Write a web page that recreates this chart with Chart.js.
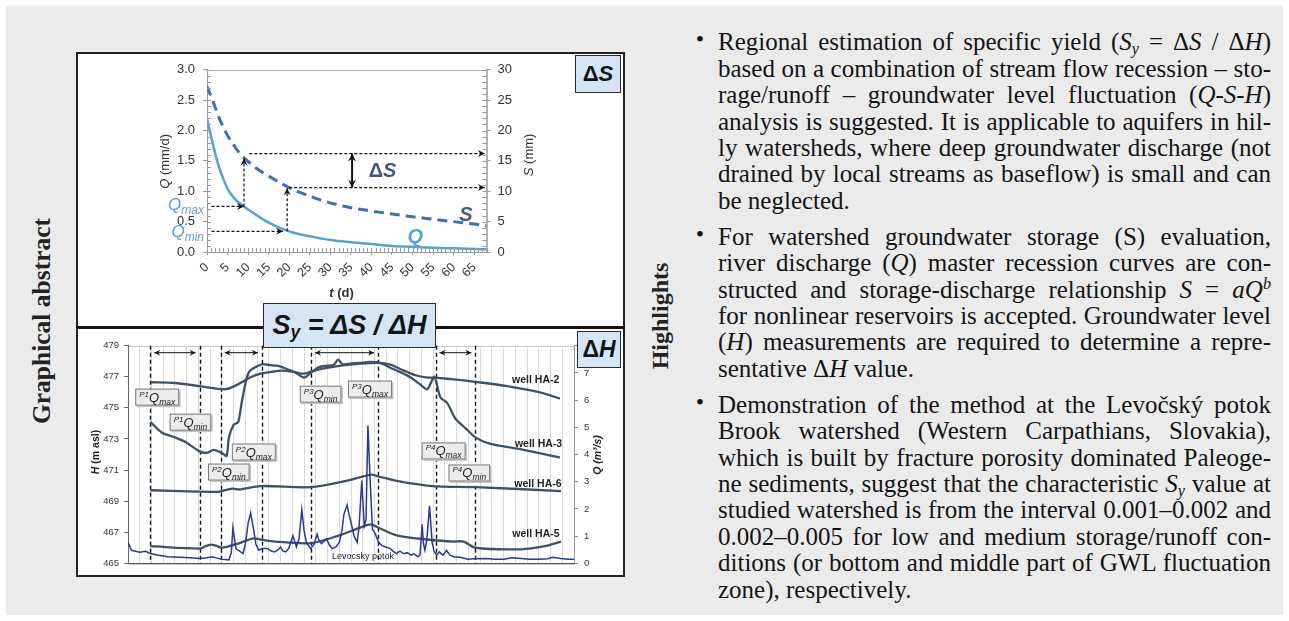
<!DOCTYPE html>
<html>
<head>
<meta charset="utf-8">
<title>Specific yield from Q-S-H analysis</title>
<script src="https://cdn.jsdelivr.net/npm/chart.js@4.4.1/dist/chart.umd.min.js"></script>
<style>
  html, body { margin: 0; padding: 0; }
  body { width: 1289px; height: 621px; position: relative; overflow: hidden; background: #fff; }
  #panel { position: absolute; left: 6px; top: 6px; width: 1277px; height: 609px; background: #ebebec; }
  #frame { position: absolute; left: 76px; top: 52px; width: 549px; height: 525px; box-sizing: border-box; border: 2px solid #222; background: #fff; }
  #divider { position: absolute; left: 76px; top: 325.5px; width: 549px; height: 3px; background: #111; }
  canvas { position: absolute; }
  .tag { position: absolute; box-sizing: border-box; border: 1.5px solid #2b2b2b; background: #d6e5f3; display: flex; align-items: center; justify-content: center; font-family: 'Liberation Sans', Arial, sans-serif; font-weight: bold; color: #151515; }
  .side { position: absolute; width: 300px; height: 30px; line-height: 30px; text-align: center; font-family: 'Liberation Serif', 'Times New Roman', serif; font-weight: bold; color: #232323; transform: rotate(-90deg); }
  .ln { position: absolute; left: 718px; width: 553px; height: 26px; line-height: 26px; font-family: 'Liberation Serif', 'Times New Roman', serif; font-size: 25px; color: #141414; text-align: justify; text-align-last: justify; }
  .ln.end { text-align-last: left; }
  .bul { position: absolute; left: 692px; width: 16px; height: 26px; line-height: 26px; text-align: center; font-family: 'Liberation Serif', serif; font-size: 24px; color: #141414; }
  .sb { font-size: 65%; vertical-align: -0.25em; line-height: 0; }
  .sp { font-size: 65%; vertical-align: 0.55em; line-height: 0; }
</style>
</head>
<body>
<div id="panel"></div>
<div id="frame"></div>
<canvas id="recession" width="545" height="271" style="left:78px;top:54px;"></canvas>
<canvas id="hydrograph" width="545" height="246" style="left:78px;top:329px;"></canvas>
<div id="divider"></div>
<div class="tag" style="left:575px;top:55px;width:46px;height:38px;font-size:22px;">Δ<i>S</i></div>
<div class="tag" style="left:577px;top:331px;width:44px;height:37px;font-size:23px;">Δ<i>H</i></div>
<div class="tag" style="left:263px;top:303px;width:173px;height:45px;font-size:27px;font-style:italic;">S<span style="font-size:65%;position:relative;top:7px;">y</span>&nbsp;= ΔS / ΔH</div>
<div class="side" style="left:-108.5px;top:306px;font-size:25.5px;">Graphical abstract</div>
<div class="side" style="left:510px;top:301px;font-size:24px;">Highlights</div>
<div id="highlights"></div>

<script>
// ---------- recession panel (top) ----------
const recessionDays = [0, 1, 2, 3, 4, 5, 6, 7, 8, 9, 10, 12, 14, 16, 18, 20, 22, 25, 28, 31, 35, 40, 45, 50, 55, 60, 65, 68];
const recessionQ = [2.2, 1.9, 1.62, 1.38, 1.2, 1.04, 0.94, 0.86, 0.8, 0.75, 0.7, 0.61, 0.52, 0.45, 0.39, 0.34, 0.3, 0.26, 0.22, 0.19, 0.16, 0.13, 0.1, 0.085, 0.07, 0.06, 0.05, 0.045];
const recessionS = [27.3, 25.6, 23.8, 22, 20.5, 19.2, 18.1, 17.1, 16.2, 15.5, 14.9, 13.8, 12.9, 12.1, 11.3, 10.6, 10, 9.2, 8.5, 7.9, 7.3, 6.75, 6.25, 5.8, 5.4, 5, 4.6, 4.3];

// Qmax / Qmin read on the recession curve and the storages they give
const qMax = 0.75, qMin = 0.34;
const tAtQmax = 9, tAtQmin = 19.5;
const sAtQmax = 16.2, sAtQmin = 10.6;

// ---------- hydrograph panel (bottom) ----------
// day of record, groundwater head (m asl)
const wellHA2 = [[19, 476.65], [40, 476.6], [61, 476.4], [83, 476.2], [92, 476.45], [98, 476.7], [104, 476.95], [113, 477.2], [121, 477.3], [131, 477.4], [142, 477.3], [150, 477.2], [159, 477.4], [172, 477.6], [185, 477.75], [198, 477.85], [213, 477.9], [223, 477.8], [232, 477.5], [245, 477.1], [255, 476.95], [262, 476.95], [275, 476.85], [296, 476.67], [323, 476.4], [351, 476.0], [368, 475.6]];
const wellHA3 = [[19, 474.1], [29, 473.4], [40, 473.1], [49, 472.8], [61, 472.2], [67, 472.1], [73, 472.3], [80, 472.1], [84, 471.9], [86, 473.1], [90, 473.9], [94, 474.1], [97, 475.4], [103, 477.3], [114, 477.8], [121, 477.75], [128, 477.7], [132, 477.6], [142, 477.3], [150, 476.95], [155, 477.2], [162, 477.6], [168, 477.7], [175, 477.75], [179, 478.1], [183, 477.8], [189, 477.85], [198, 477.9], [206, 477.95], [215, 477.9], [223, 477.6], [232, 477.3], [240, 477.0], [249, 476.5], [255, 476.2], [261, 477.0], [266, 475.7], [272, 475.3], [279, 474.3], [286, 473.8], [296, 473.1], [308, 472.7], [337, 472.3], [368, 471.8]];
const wellHA6 = [[19, 469.7], [77, 469.6], [80, 469.65], [89, 469.8], [95, 469.75], [113, 469.97], [156, 469.9], [186, 470.3], [207, 470.7], [213, 470.6], [229, 470.3], [259, 469.97], [296, 469.9], [369, 469.65]];
const wellHA5 = [[19, 466.1], [61, 465.95], [66, 466.1], [71, 466.2], [76, 466.1], [80, 466.0], [95, 466.3], [107, 466.6], [115, 466.5], [125, 466.4], [156, 466.3], [180, 466.8], [198, 467.3], [207, 467.5], [213, 467.3], [229, 466.8], [259, 466.5], [277, 466.4], [286, 466.4], [296, 466.0], [335, 465.9], [355, 466.1], [369, 466.4]];
// Levocsky potok discharge (m3/s)
const potokQ = [[0, 0.77], [3, 0.48], [10, 0.41], [15, 0.44], [19, 0.36], [26, 0.3], [34, 0.24], [44, 0.22], [53, 0.2], [61, 0.18], [67, 0.2], [72, 0.24], [75, 0.2], [80, 0.15], [86, 0.12], [88, 0.4], [89.4, 1.31], [92, 0.54], [98, 0.36], [100, 0.7], [102.4, 1.49], [104.5, 1.85], [107, 1.25], [109, 0.7], [111.5, 0.48], [115, 0.55], [119, 0.54], [122, 0.45], [125, 0.42], [128, 0.5], [130, 0.6], [132, 0.45], [134.4, 0.42], [137, 0.55], [140.5, 1.01], [143.5, 0.6], [145.7, 0.9], [148.1, 1.97], [150, 1.2], [152, 0.77], [155.7, 0.54], [158.5, 0.7], [161.1, 1.07], [162.7, 0.85], [164.8, 0.72], [167, 0.8], [169.3, 0.9], [171.2, 0.7], [173.9, 0.54], [177.2, 0.6], [180, 0.77], [182.3, 1.2], [184, 1.8], [186.7, 2.15], [188.3, 1.8], [190.7, 1.37], [192.6, 1.0], [195.2, 0.77], [196.8, 1.3], [199.2, 3.04], [201.3, 1.37], [202.8, 1.6], [204.4, 5.07], [206.2, 3.16], [208.3, 1.25], [210.5, 1.1], [213.5, 0.77], [216.4, 0.65], [219.6, 0.6], [223.2, 0.55], [225.8, 0.45], [228.7, 0.36], [231.7, 0.45], [235.2, 0.35], [237.8, 0.39], [241.1, 0.3], [243.7, 0.35], [247, 0.24], [248.8, 0.3], [250.6, 1.43], [251.8, 0.7], [253, 0.48], [254.7, 0.9], [256.9, 2.11], [259.1, 0.77], [260.7, 0.45], [263, 0.3], [265.2, 0.42], [268.4, 0.3], [271.3, 0.48], [274.3, 0.3], [277.4, 0.24], [283, 0.22], [289.6, 0.15], [295.6, 0.17], [304.8, 0.18], [312.7, 0.15], [320, 0.15], [327.2, 0.2], [335.2, 0.18], [342.5, 0.15], [350.4, 0.15], [357.8, 0.17], [362, 0.22], [368.7, 0.18], [374.9, 0.15], [380, 0.15]];

// recession periods P1..P4: start (Qmax) and end (Qmin) days
const periodBounds = [[19, 61], [79, 114], [156, 213], [262, 296]];

const FONT = "'Liberation Sans', Arial, sans-serif";
const Q_BLUE = '#55a2da', S_BLUE = '#3b70bd', SLATE = '#3f5978';
const WELL = '#3f5166', STREAM = '#2a379c';

Chart.defaults.font.family = FONT;
Chart.defaults.color = '#333';
Chart.defaults.animation = false;

function xy(xs, ys) { return xs.map((x, i) => ({ x: x, y: ys[i] })); }
function pairs(arr) { return arr.map(p => ({ x: p[0], y: p[1] })); }

// draws mixed-font text on a common baseline
function drawRich(ctx, parts, x, y, align) {
  let w = 0;
  parts.forEach(p => { ctx.font = p.font; w += ctx.measureText(p.text).width; });
  let cx = align === 'center' ? x - w / 2 : align === 'right' ? x - w : x;
  ctx.textAlign = 'left';
  ctx.textBaseline = 'alphabetic';
  parts.forEach(p => {
    ctx.font = p.font;
    ctx.fillText(p.text, cx, y + (p.dy || 0));
    cx += ctx.measureText(p.text).width;
  });
  return w;
}

function drawVerticalTitle(ctx, parts, x, y, size) {
  ctx.save();
  ctx.translate(x, y);
  ctx.rotate(-Math.PI / 2);
  drawRich(ctx, parts, 0, size * 0.36, 'center');
  ctx.restore();
}

function arrowHead(ctx, x, y, angle, size) {
  ctx.save();
  ctx.translate(x, y);
  ctx.rotate(angle);
  ctx.setLineDash([]);
  ctx.beginPath();
  ctx.moveTo(0, 0);
  ctx.lineTo(-size, -size * 0.5);
  ctx.lineTo(-size * 0.65, 0);
  ctx.lineTo(-size, size * 0.5);
  ctx.closePath();
  ctx.fill();
  ctx.restore();
}

function arrow(ctx, x1, y1, x2, y2, dash, both, size) {
  ctx.save();
  ctx.setLineDash(dash || []);
  ctx.beginPath();
  ctx.moveTo(x1, y1);
  ctx.lineTo(x2, y2);
  ctx.stroke();
  const a = Math.atan2(y2 - y1, x2 - x1);
  arrowHead(ctx, x2, y2, a, size || 7);
  if (both) arrowHead(ctx, x1, y1, a + Math.PI, size || 7);
  ctx.restore();
}

// light box round the plot area, drawn under the axes
const plotFrame = {
  id: 'plotFrame',
  beforeDraw(chart, args, opts) {
    const { ctx, chartArea: a } = chart;
    ctx.save();
    ctx.strokeStyle = opts.color || '#b0b0b0';
    ctx.lineWidth = 1;
    ctx.strokeRect(Math.round(a.left) + 0.5, Math.round(a.top) + 0.5, Math.round(a.right - a.left), Math.round(a.bottom - a.top));
    ctx.restore();
  }
};

// ---------- top chart ----------
const recessionNotes = {
  id: 'recessionNotes',
  afterDraw(chart) {
    const { ctx, chartArea: a, scales: { x, yQ, yS } } = chart;
    ctx.save();

    // inward minor ticks
    ctx.strokeStyle = '#9a9a9a';
    ctx.lineWidth = 1;
    ctx.beginPath();
    for (let t = 0; t <= x.max; t++) {
      const px = Math.round(x.getPixelForValue(t)) + 0.5;
      ctx.moveTo(px, a.bottom); ctx.lineTo(px, a.bottom - 4);
    }
    for (let q = 0; q <= 30; q++) {
      const py = Math.round(yQ.getPixelForValue(q / 10)) + 0.5;
      ctx.moveTo(a.left, py); ctx.lineTo(a.left + 4, py);
    }
    for (let s = 0; s <= 30; s++) {
      const py = Math.round(yS.getPixelForValue(s)) + 0.5;
      ctx.moveTo(a.right, py); ctx.lineTo(a.right - 4, py);
    }
    ctx.stroke();

    // Qmax / Qmin construction lines
    ctx.strokeStyle = '#111';
    ctx.fillStyle = '#111';
    ctx.lineWidth = 1.2;
    const d = [3, 2];
    arrow(ctx, x.getPixelForValue(1.1), yQ.getPixelForValue(qMax), x.getPixelForValue(tAtQmax), yQ.getPixelForValue(qMax), d);
    arrow(ctx, x.getPixelForValue(1.1), yQ.getPixelForValue(qMin), x.getPixelForValue(tAtQmin - 1), yQ.getPixelForValue(qMin), d);
    arrow(ctx, x.getPixelForValue(tAtQmax), yQ.getPixelForValue(qMax), x.getPixelForValue(tAtQmax), yS.getPixelForValue(15.4), d);
    arrow(ctx, x.getPixelForValue(tAtQmin), yQ.getPixelForValue(qMin), x.getPixelForValue(tAtQmin), yS.getPixelForValue(sAtQmin - 0.1), d);
    arrow(ctx, x.getPixelForValue(10.3), yS.getPixelForValue(sAtQmax), x.getPixelForValue(67.6), yS.getPixelForValue(sAtQmax), d);
    arrow(ctx, x.getPixelForValue(20), yS.getPixelForValue(sAtQmin), x.getPixelForValue(67.6), yS.getPixelForValue(sAtQmin), d);

    // delta S
    ctx.lineWidth = 2;
    arrow(ctx, x.getPixelForValue(35.3), yS.getPixelForValue(sAtQmin), x.getPixelForValue(35.3), yS.getPixelForValue(sAtQmax), [], true, 8);

    ctx.fillStyle = SLATE;
    drawRich(ctx, [{ text: 'Δ', font: 'bold 20px ' + FONT }, { text: 'S', font: 'bold italic 20px ' + FONT }],
      x.getPixelForValue(42.7), yS.getPixelForValue(13.5) + 7, 'center');
    drawRich(ctx, [{ text: 'S', font: 'bold italic 20px ' + FONT }], x.getPixelForValue(63), yS.getPixelForValue(6.3) + 7, 'center');
    ctx.fillStyle = Q_BLUE;
    drawRich(ctx, [{ text: 'Q', font: 'bold italic 20px ' + FONT }], x.getPixelForValue(50.7), yQ.getPixelForValue(0.27) + 7, 'center');

    // Qmax / Qmin beside the axis
    drawRich(ctx, [{ text: 'Q', font: 'italic 17px ' + FONT }, { text: 'max', font: 'italic 12px ' + FONT, dy: 4 }],
      a.left - 3, yQ.getPixelForValue(qMax) + 4, 'right');
    drawRich(ctx, [{ text: 'Q', font: 'italic 17px ' + FONT }, { text: 'min', font: 'italic 12px ' + FONT, dy: 4 }],
      a.left - 3, yQ.getPixelForValue(qMin) + 6, 'right');

    // axis titles
    ctx.fillStyle = '#333';
    drawVerticalTitle(ctx, [{ text: 'Q', font: 'italic 13px ' + FONT }, { text: ' (mm/d)', font: '13px ' + FONT }], 86.5, (a.top + a.bottom) / 2 + 0.5, 13);
    drawVerticalTitle(ctx, [{ text: 'S', font: 'italic 13px ' + FONT }, { text: ' (mm)', font: '13px ' + FONT }], 450, (a.top + a.bottom) / 2 - 6, 13);
    drawRich(ctx, [{ text: 't', font: 'bold italic 13px ' + FONT }, { text: ' (d)', font: 'bold 13px ' + FONT }],
      (x.getPixelForValue(0) + x.getPixelForValue(65)) / 2 + 1, 243, 'center');
    ctx.restore();
  }
};

new Chart(document.getElementById('recession'), {
  type: 'line',
  data: {
    datasets: [
      { label: 'Q', data: xy(recessionDays, recessionQ), yAxisID: 'yQ', borderColor: Q_BLUE, borderWidth: 2.5, pointRadius: 0, cubicInterpolationMode: 'monotone' },
      { label: 'S', data: xy(recessionDays, recessionS), yAxisID: 'yS', borderColor: S_BLUE, borderWidth: 3, borderDash: [10, 6], pointRadius: 0, cubicInterpolationMode: 'monotone' }
    ]
  },
  options: {
    responsive: false,
    devicePixelRatio: 1,
    layout: { padding: { top: 11, left: 0, right: 0, bottom: 0 } },
    plugins: { legend: { display: false }, tooltip: { enabled: false }, plotFrame: { color: '#b4b4b4' } },
    scales: {
      x: {
        type: 'linear', min: 0, max: 68,
        ticks: { stepSize: 5, includeBounds: false, autoSkip: false, minRotation: 45, maxRotation: 45, font: { size: 12.5 }, color: '#333', padding: 5 },
        grid: { drawOnChartArea: false, tickLength: 3, color: '#9a9a9a' },
        border: { color: '#9a9a9a' },
        afterFit: s => { s.height = 73; }
      },
      yQ: {
        position: 'left', min: 0, max: 3,
        ticks: { stepSize: 0.5, callback: v => v.toFixed(1), font: { size: 13 }, color: '#333', padding: 8 },
        grid: { drawOnChartArea: false, tickLength: 4, color: '#9a9a9a' },
        border: { color: '#9a9a9a' },
        afterFit: s => { s.width = 129; }
      },
      yS: {
        position: 'right', min: 0, max: 30,
        ticks: { stepSize: 5, font: { size: 13 }, color: '#333', padding: 7 },
        grid: { drawOnChartArea: false, tickLength: 4, color: '#9a9a9a' },
        border: { color: '#b4b4b4' },
        afterFit: s => { s.width = 136.5; }
      }
    }
  },
  plugins: [plotFrame, recessionNotes]
});

// ---------- bottom chart ----------
const tagSpecs = [
  { p: '1', m: 'max', d: 24.9, h: 475.69 }, { p: '1', m: 'min', d: 53.2, h: 474.08 },
  { p: '2', m: 'max', d: 107.2, h: 472.16 }, { p: '2', m: 'min', d: 85.9, h: 470.87 },
  { p: '3', m: 'min', d: 164.1, h: 475.88 }, { p: '3', m: 'max', d: 206.2, h: 476.21 },
  { p: '4', m: 'max', d: 268.9, h: 472.23 }, { p: '4', m: 'min', d: 290.8, h: 470.81 }
];
const wellTags = [
  { t: 'well HA-2', d: 347.4, h: 476.84 }, { t: 'well HA-3', d: 349.8, h: 472.71 },
  { t: 'well HA-6', d: 349.3, h: 470.19 }, { t: 'well HA-5', d: 347.6, h: 466.92 }
];

const periodLines = {
  id: 'periodLines',
  beforeDatasetsDraw(chart) {
    const { ctx, chartArea: a, scales: { x } } = chart;
    ctx.save();
    ctx.strokeStyle = '#111';
    ctx.lineWidth = 1.4;
    ctx.setLineDash([4, 3]);
    ctx.beginPath();
    periodBounds.flat().forEach(dv => {
      const px = Math.round(x.getPixelForValue(dv)) + 0.5;
      ctx.moveTo(px, a.top); ctx.lineTo(px, a.bottom);
    });
    ctx.stroke();
    ctx.restore();
  }
};

const hydroNotes = {
  id: 'hydroNotes',
  afterDatasetsDraw(chart) {
    const { ctx, chartArea: a, scales: { x, yH, yQ } } = chart;
    ctx.save();

    // period spans
    ctx.strokeStyle = '#111';
    ctx.fillStyle = '#111';
    ctx.lineWidth = 1;
    const ay = yH.getPixelForValue(478.55);
    periodBounds.forEach(([s, e]) => {
      arrow(ctx, x.getPixelForValue(s) + 4, ay, x.getPixelForValue(e) - 4, ay, [], true, 6);
    });

    // P-Q tags
    tagSpecs.forEach(tg => {
      const parts = [
        { text: 'P' + tg.p, font: 'italic 8px ' + FONT, dy: -5 },
        { text: 'Q', font: 'italic 13px ' + FONT },
        { text: tg.m, font: 'italic 8.5px ' + FONT, dy: 3 }
      ];
      let w = 0;
      parts.forEach(p => { ctx.font = p.font; w += ctx.measureText(p.text).width; });
      const bw = w + 8, bh = 17;
      const cx = x.getPixelForValue(tg.d), cy = yH.getPixelForValue(tg.h);
      ctx.fillStyle = '#c4c4c4';
      ctx.fillRect(cx - bw / 2 + 1.5, cy - bh / 2 + 1.5, bw, bh);
      ctx.fillStyle = '#ececec';
      ctx.fillRect(cx - bw / 2, cy - bh / 2, bw, bh);
      ctx.strokeStyle = '#7a7a7a';
      ctx.strokeRect(cx - bw / 2 + 0.5, cy - bh / 2 + 0.5, bw - 1, bh - 1);
      ctx.fillStyle = '#222';
      drawRich(ctx, parts, cx, cy + 4.5, 'center');
    });

    // series names
    ctx.fillStyle = '#1e1e1e';
    wellTags.forEach(wt => {
      drawRich(ctx, [{ text: wt.t, font: 'bold 10.5px ' + FONT }], x.getPixelForValue(wt.d), yH.getPixelForValue(wt.h) + 4, 'center');
    });
    drawRich(ctx, [{ text: 'Levocsky potok', font: '9px ' + FONT }], x.getPixelForValue(200.2), yH.getPixelForValue(465.46) + 3, 'center');

    // axis titles
    drawVerticalTitle(ctx, [{ text: 'H', font: 'bold italic 10.5px ' + FONT }, { text: ' (m asl)', font: 'bold 10.5px ' + FONT }], 17, 123, 10.5);
    drawVerticalTitle(ctx, [{ text: 'Q', font: 'bold italic 10.5px ' + FONT }, { text: ' (m³/s)', font: 'bold italic 10.5px ' + FONT }], 519, 126, 10.5);
    ctx.restore();
  }
};

new Chart(document.getElementById('hydrograph'), {
  type: 'line',
  data: {
    datasets: [
      { label: 'Levocsky potok', data: pairs(potokQ), yAxisID: 'yQ', borderColor: STREAM, borderWidth: 1.5, pointRadius: 0, tension: 0 },
      { label: 'well HA-2', data: pairs(wellHA2), yAxisID: 'yH', borderColor: WELL, borderWidth: 2.3, pointRadius: 0, tension: 0.3 },
      { label: 'well HA-3', data: pairs(wellHA3), yAxisID: 'yH', borderColor: WELL, borderWidth: 2.3, pointRadius: 0, tension: 0.25 },
      { label: 'well HA-6', data: pairs(wellHA6), yAxisID: 'yH', borderColor: WELL, borderWidth: 2.3, pointRadius: 0, tension: 0.3 },
      { label: 'well HA-5', data: pairs(wellHA5), yAxisID: 'yH', borderColor: WELL, borderWidth: 2.3, pointRadius: 0, tension: 0.3 }
    ]
  },
  options: {
    responsive: false,
    devicePixelRatio: 1,
    layout: { padding: { top: 16.7, left: 0, right: 0, bottom: 0 } },
    plugins: { legend: { display: false }, tooltip: { enabled: false }, plotFrame: { color: '#c8c8c8' } },
    scales: {
      x: {
        type: 'linear', min: 0, max: 380,
        ticks: { display: false, stepSize: 10 },
        grid: { color: '#d9d9d9', drawTicks: false },
        border: { color: '#555' },
        afterFit: s => { s.height = 6.7; }
      },
      yH: {
        position: 'left', min: 465, max: 479,
        ticks: { stepSize: 2, font: { size: 9.5 }, color: '#333', padding: 5 },
        grid: { drawOnChartArea: false, tickLength: 4, color: '#666' },
        border: { color: '#666' },
        afterFit: s => { s.width = 50; }
      },
      yQ: {
        position: 'right', min: 0, max: 8,
        ticks: { stepSize: 1, font: { size: 9.5 }, color: '#333', padding: 6, callback: v => (v === 8 ? '' : v) },
        grid: { drawOnChartArea: false, tickLength: 4, color: '#888' },
        border: { color: '#999' },
        afterFit: s => { s.width = 49; }
      }
    }
  },
  plugins: [plotFrame, periodLines, hydroNotes]
});

// ---------- highlights text ----------
const highlightBlocks = [
  { top: 29.4, lines: [
    'Regional estimation of specific yield (<i>S<span class="sb">y</span></i> = Δ<i>S</i> / Δ<i>H</i>)',
    'based on a combination of stream flow recession – sto-',
    'rage/runoff – groundwater level fluctuation (<i>Q-S-H</i>)',
    'analysis is suggested. It is applicable to aquifers in hil-',
    'ly watersheds, where deep groundwater discharge (not',
    'drained by local streams as baseflow) is small and can',
    'be neglected.'] },
  { top: 223.7, lines: [
    'For watershed groundwater storage (S) evaluation,',
    'river discharge (<i>Q</i>) master recession curves are con-',
    'structed and storage-discharge relationship <i>S</i> = <i>aQ<span class="sp">b</span></i>',
    'for nonlinear reservoirs is accepted. Groundwater level',
    '(<i>H</i>) measurements are required to determine a repre-',
    'sentative Δ<i>H</i> value.'] },
  { top: 391.7, lines: [
    'Demonstration of the method at the Levočský potok',
    'Brook watershed (Western Carpathians, Slovakia),',
    'which is built by fracture porosity dominated Paleoge-',
    'ne sediments, suggest that the characteristic <i>S<span class="sb">y</span></i> value at',
    'studied watershed is from the interval 0.001–0.002 and',
    '0.002–0.005 for low and medium storage/runoff con-',
    'ditions (or bottom and middle part of GWL fluctuation',
    'zone), respectively.'] }
];
const hl = document.getElementById('highlights');
const LINE_STEP = 26.4;
highlightBlocks.forEach(b => {
  const bullet = document.createElement('div');
  bullet.className = 'bul';
  bullet.style.top = (b.top - 3) + 'px';
  bullet.textContent = '•';
  hl.appendChild(bullet);
  b.lines.forEach((html, i) => {
    const ln = document.createElement('div');
    ln.className = 'ln' + (i === b.lines.length - 1 ? ' end' : '');
    ln.style.top = (b.top + i * LINE_STEP) + 'px';
    ln.innerHTML = html;
    hl.appendChild(ln);
    // a justified line must stay on one row
    let size = 25;
    while (ln.scrollHeight > 30 && size > 20) {
      size -= 0.2;
      ln.style.fontSize = size + 'px';
    }
  });
});
</script>
</body>
</html>
